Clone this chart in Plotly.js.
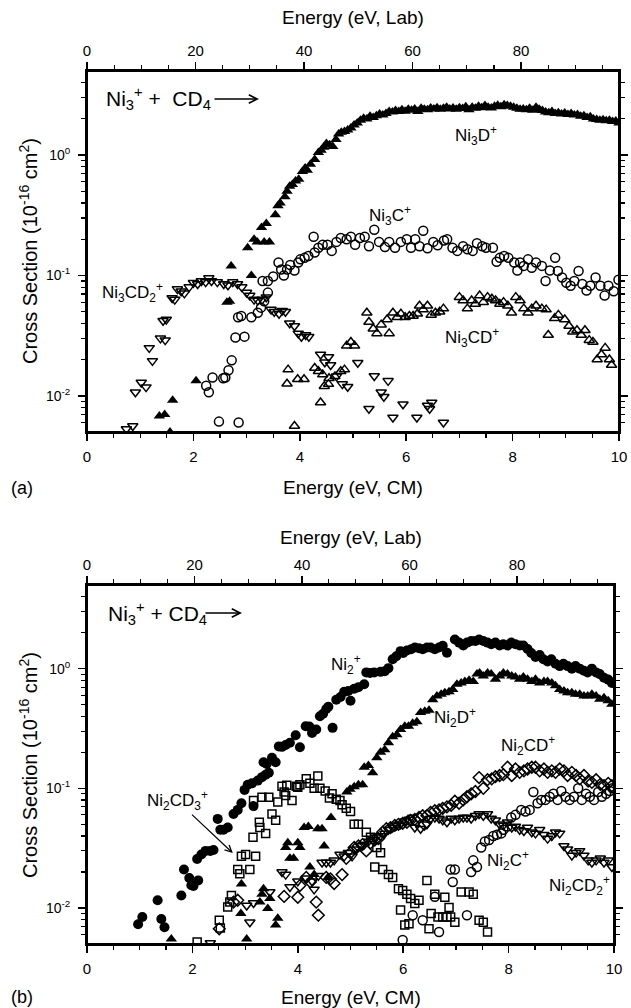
<!DOCTYPE html>
<html>
<head>
<meta charset="utf-8">
<script src="https://cdn.plot.ly/plotly-3.0.1.min.js"></script>
<style>html,body{margin:0;padding:0;background:#fff}#chart{width:631px;height:1008px}</style>
</head>
<body>
<div id="chart"></div>
<script>
// ---------- Panel (a) data : Energy (eV, CM) vs cross section (1e-16 cm^2) ----------
const aNi3D_E = [1.36,1.46,1.56,1.61,2.05,2.63,2.68,2.71,3.02,3.09,3.14,3.20,3.28,3.33,3.37,3.43,3.54,3.59,3.63,3.72,3.76,3.81,3.86,3.92,3.98,4.05,4.10,4.14,4.20,4.28,4.35,4.40,4.45,4.50,4.56,4.62,4.68,4.73,4.78,4.84,4.90,4.96,5.02,5.08,5.14,5.20,5.26,5.32,5.38,5.44,5.50,5.56,5.62,5.68,5.74,5.80,5.86,5.92,5.98,6.04,6.10,6.16,6.22,6.28,6.34,6.40,6.46,6.52,6.58,6.64,6.70,6.76,6.82,6.88,6.94,7.00,7.06,7.12,7.18,7.24,7.30,7.36,7.42,7.48,7.54,7.60,7.66,7.72,7.78,7.84,7.90,7.96,8.02,8.08,8.14,8.20,8.26,8.32,8.38,8.44,8.50,8.56,8.62,8.68,8.74,8.80,8.86,8.92,8.98,9.04,9.10,9.16,9.22,9.28,9.34,9.40,9.46,9.52,9.58,9.64,9.70,9.76,9.82,9.88,9.94,10.0];
const aNi3D_S = [0.0068,0.0070,0.0050,0.0092,0.0133,0.060,0.061,0.12,0.17,0.10,0.20,0.19,0.25,0.19,0.27,0.19,0.32,0.38,0.40,0.45,0.50,0.55,0.57,0.61,0.63,0.73,0.78,0.75,0.84,0.92,1.05,1.10,1.16,1.25,1.22,1.18,1.35,1.50,1.55,1.57,1.62,1.68,1.78,1.85,1.95,2.02,2.00,2.10,2.05,2.12,2.20,2.15,2.22,2.30,2.28,2.35,2.30,2.38,2.32,2.40,2.36,2.42,2.30,2.45,2.40,2.38,2.46,2.42,2.48,2.40,2.45,2.50,2.42,2.46,2.40,2.48,2.44,2.52,2.38,2.50,2.45,2.55,2.48,2.58,2.50,2.46,2.55,2.60,2.52,2.62,2.58,2.55,2.50,2.45,2.40,2.42,2.38,2.45,2.36,2.50,2.40,2.35,2.28,2.25,2.30,2.22,2.25,2.20,2.24,2.18,2.22,2.15,2.18,2.10,2.12,2.05,2.08,2.00,1.98,1.95,1.97,1.93,1.95,1.90,1.92,1.85];

const aNi3C_E = [2.48,2.85,2.24,2.29,2.36,2.56,2.60,2.66,2.72,2.79,2.96,2.84,2.90,3.09,3.21,3.27,3.33,3.40,3.30,3.40,3.50,3.60,3.65,3.70,3.76,3.82,3.90,3.97,4.01,4.09,4.16,4.26,4.28,4.35,4.43,4.52,4.60,4.69,4.77,4.88,4.96,5.04,5.13,5.22,5.30,5.40,5.49,5.60,5.68,5.79,5.90,6.01,6.09,6.17,6.25,6.32,6.40,6.51,6.59,6.71,6.77,6.87,6.96,7.07,7.15,7.25,7.33,7.43,7.50,7.63,7.70,7.76,7.84,7.92,8.03,8.09,8.14,8.21,8.29,8.36,8.44,8.55,8.62,8.70,8.80,8.85,8.93,9.01,9.09,9.16,9.24,9.31,9.39,9.46,9.56,9.65,9.73,9.80,9.90,9.99];
const aNi3C_S = [0.0061,0.0060,0.0121,0.0107,0.0142,0.0140,0.0142,0.0163,0.0197,0.0305,0.031,0.045,0.046,0.045,0.049,0.054,0.061,0.072,0.090,0.090,0.098,0.128,0.112,0.100,0.112,0.122,0.110,0.128,0.136,0.140,0.145,0.210,0.155,0.170,0.180,0.180,0.160,0.190,0.205,0.200,0.210,0.180,0.205,0.210,0.175,0.240,0.190,0.172,0.190,0.170,0.190,0.200,0.170,0.200,0.175,0.235,0.168,0.190,0.178,0.195,0.200,0.170,0.160,0.175,0.165,0.160,0.185,0.175,0.170,0.170,0.130,0.140,0.145,0.140,0.128,0.110,0.128,0.120,0.136,0.116,0.128,0.120,0.090,0.110,0.140,0.109,0.096,0.087,0.082,0.090,0.109,0.085,0.075,0.082,0.096,0.082,0.068,0.082,0.074,0.092];

const aNi3CD2_E = [0.74,0.86,0.91,1.02,1.11,1.17,1.23,1.38,1.47,1.43,1.49,1.60,1.65,1.70,1.77,1.83,1.92,2.00,2.08,2.15,2.23,2.29,2.34,2.45,2.57,2.65,2.74,2.83,2.91,3.00,3.06,3.14,3.21,3.29,3.37,3.46,3.52,3.61,3.67,3.73,3.81,3.90,3.97,4.03,4.11,4.17,4.39,4.47,4.54,4.58,4.69,4.80,4.90,5.09,5.30,5.40,5.53,5.58,5.66,5.75,5.94,6.20,6.40,6.48,6.44,6.70];
const aNi3CD2_S = [0.0053,0.0056,0.0107,0.0129,0.0118,0.025,0.0195,0.030,0.029,0.042,0.043,0.065,0.063,0.077,0.074,0.071,0.080,0.087,0.085,0.090,0.088,0.095,0.090,0.088,0.085,0.083,0.088,0.085,0.080,0.072,0.068,0.063,0.062,0.063,0.066,0.052,0.050,0.048,0.051,0.050,0.040,0.038,0.033,0.031,0.032,0.031,0.022,0.019,0.021,0.018,0.0145,0.0125,0.0119,0.0188,0.0078,0.0146,0.0107,0.0098,0.0133,0.0066,0.0085,0.0066,0.0083,0.0088,0.0078,0.0060];

const aNi3CD_E = [3.90,3.78,3.76,3.96,4.08,4.28,4.35,4.43,4.39,4.46,4.54,4.55,4.66,4.77,4.84,4.88,4.96,5.03,5.26,5.30,5.38,5.45,5.53,5.64,5.68,5.75,5.83,5.90,5.98,6.06,6.13,6.21,6.25,6.32,6.40,6.47,6.55,6.63,6.70,7.00,7.07,7.15,7.23,7.30,7.38,7.45,7.53,7.61,7.68,7.76,7.83,7.91,7.98,8.06,8.14,8.21,8.29,8.36,8.44,8.55,8.63,8.67,8.79,8.86,8.98,9.06,9.13,9.21,9.29,9.36,9.44,9.51,9.59,9.67,9.74,9.82,9.86];
const aNi3CD_S = [0.0056,0.0165,0.0126,0.0137,0.0137,0.0170,0.0160,0.0150,0.0088,0.0120,0.0125,0.0140,0.0145,0.0160,0.0165,0.026,0.028,0.026,0.049,0.041,0.036,0.033,0.039,0.043,0.033,0.049,0.045,0.048,0.045,0.046,0.046,0.048,0.056,0.052,0.056,0.047,0.049,0.050,0.053,0.066,0.062,0.053,0.062,0.058,0.068,0.060,0.066,0.064,0.062,0.058,0.060,0.056,0.049,0.066,0.062,0.053,0.049,0.053,0.056,0.053,0.052,0.032,0.044,0.047,0.043,0.038,0.034,0.035,0.032,0.035,0.029,0.028,0.020,0.022,0.025,0.020,0.018];

// ---------- Panel (b) data ----------
const bNi2_E = [0.97,1.05,1.34,1.41,1.47,1.79,1.84,1.94,1.98,2.02,2.11,2.09,2.17,2.25,2.34,2.40,2.48,2.53,2.59,2.67,2.78,2.86,2.93,3.16,2.99,3.05,3.13,3.24,3.32,3.39,3.45,3.35,3.41,3.51,3.58,3.64,3.70,3.77,3.85,3.96,4.04,4.15,4.22,4.27,4.35,4.42,4.48,4.54,4.58,4.66,4.73,4.81,4.88,4.96,5.00,5.07,5.15,5.26,5.30,5.37,5.45,5.57,5.65,5.72,5.80,5.87,5.95,6.00,6.07,6.15,6.22,6.30,6.37,6.45,6.52,6.60,6.68,6.75,6.83,6.98,7.06,7.14,7.21,7.29,7.37,7.44,7.52,7.60,7.67,7.75,7.83,7.90,7.98,8.05,8.13,8.21,8.28,8.36,8.43,8.51,8.59,8.66,8.74,8.81,8.89,8.97,9.04,9.12,9.20,9.27,9.35,9.43,9.50,9.58,9.66,9.73,9.81,9.89,9.96];
const bNi2_S = [0.0073,0.0084,0.0116,0.0081,0.0069,0.0127,0.021,0.0178,0.0155,0.0153,0.017,0.0257,0.028,0.030,0.030,0.0305,0.0555,0.045,0.045,0.047,0.061,0.066,0.075,0.071,0.097,0.107,0.110,0.116,0.124,0.130,0.135,0.165,0.160,0.180,0.165,0.224,0.222,0.230,0.240,0.278,0.220,0.330,0.328,0.290,0.310,0.400,0.420,0.460,0.480,0.320,0.550,0.580,0.640,0.650,0.540,0.680,0.700,0.740,0.930,0.920,0.930,0.940,0.950,1.010,1.200,1.270,1.400,1.350,1.420,1.450,1.500,1.480,1.450,1.500,1.500,1.450,1.500,1.550,1.360,1.750,1.650,1.560,1.650,1.700,1.700,1.750,1.700,1.650,1.600,1.650,1.560,1.600,1.560,1.650,1.600,1.560,1.560,1.460,1.350,1.250,1.300,1.200,1.150,1.200,1.100,1.050,1.100,1.050,1.000,1.050,1.000,0.960,0.930,1.000,0.930,0.900,0.840,0.810,0.760];

const bNi2D_E = [1.60,3.03,2.92,2.93,3.28,3.35,3.32,3.43,3.47,3.58,3.62,3.77,3.81,4.00,4.04,3.85,3.92,4.12,4.20,4.38,4.46,4.23,4.31,4.50,4.63,4.57,4.93,4.99,5.07,5.15,5.23,5.26,5.34,5.42,5.50,5.57,5.65,5.72,5.80,5.88,5.95,6.03,6.10,6.18,6.26,6.33,6.41,6.49,6.56,6.64,6.72,6.79,6.87,6.94,7.02,7.10,7.17,7.25,7.33,7.40,7.45,7.52,7.60,7.67,7.75,7.83,7.90,7.98,8.06,8.13,8.21,8.28,8.36,8.44,8.51,8.59,8.67,8.74,8.82,8.89,8.97,9.05,9.12,9.20,9.27,9.35,9.43,9.50,9.58,9.66,9.73,9.81,9.89,9.96];
const bNi2D_S = [0.0055,0.0055,0.0090,0.0159,0.0112,0.0145,0.0130,0.0099,0.0120,0.0072,0.0082,0.032,0.035,0.035,0.032,0.026,0.026,0.047,0.048,0.046,0.046,0.022,0.019,0.033,0.057,0.018,0.093,0.098,0.103,0.107,0.107,0.150,0.155,0.135,0.180,0.200,0.210,0.240,0.270,0.280,0.310,0.330,0.330,0.350,0.360,0.430,0.440,0.450,0.550,0.590,0.610,0.630,0.640,0.670,0.740,0.760,0.780,0.800,0.780,0.900,0.920,0.870,0.920,0.900,0.815,0.870,0.920,0.900,0.870,0.850,0.815,0.850,0.815,0.780,0.815,0.760,0.780,0.780,0.760,0.720,0.670,0.650,0.630,0.630,0.610,0.610,0.590,0.590,0.610,0.590,0.555,0.570,0.540,0.505];

const bNi2CD3_E = [2.09,2.51,2.53,2.67,2.71,2.74,2.86,2.90,3.09,2.93,3.01,3.20,3.15,3.28,3.39,3.27,3.51,3.58,3.16,3.32,3.45,3.62,3.74,3.77,3.89,3.70,3.79,3.97,4.00,4.04,4.16,4.23,4.38,4.31,4.42,4.52,4.65,4.60,4.73,4.80,4.84,4.92,5.00,5.07,5.15,5.30,5.38,5.50,5.57,5.46,5.61,5.72,5.80,5.91,5.99,6.07,5.95,6.14,6.22,6.30,6.03,6.11,6.45,6.53,6.60,6.49,6.66,6.75,6.83,6.90,6.79,6.87,6.98,7.10,7.25,7.33,7.44,7.52,7.60];
const bNi2CD3_S = [0.0052,0.0079,0.0068,0.0102,0.0112,0.0127,0.021,0.0193,0.021,0.027,0.028,0.027,0.039,0.047,0.042,0.052,0.061,0.054,0.079,0.084,0.084,0.077,0.093,0.087,0.079,0.104,0.106,0.104,0.102,0.107,0.120,0.110,0.127,0.100,0.100,0.095,0.090,0.083,0.081,0.079,0.073,0.068,0.064,0.050,0.050,0.043,0.039,0.032,0.029,0.022,0.021,0.019,0.018,0.0145,0.0140,0.0130,0.0096,0.0120,0.0109,0.0116,0.0072,0.0074,0.0170,0.0090,0.0130,0.0067,0.0084,0.0084,0.0084,0.0084,0.0123,0.0101,0.0076,0.0136,0.0136,0.0130,0.0079,0.0076,0.0063];

const bNi2C_E = [5.99,6.18,6.37,6.60,6.68,6.90,6.98,6.94,7.21,7.33,7.29,7.40,7.48,7.55,7.63,7.71,7.78,7.86,7.90,7.98,8.05,8.13,8.24,8.32,8.40,8.47,8.55,8.62,8.70,8.78,8.85,8.93,9.00,9.08,9.16,9.24,9.32,9.39,9.47,9.54,9.62,9.70,9.77,9.85,9.92,9.97];
const bNi2C_S = [0.0054,0.0087,0.0079,0.0124,0.0063,0.021,0.021,0.0165,0.0087,0.025,0.020,0.022,0.032,0.036,0.037,0.040,0.041,0.042,0.045,0.048,0.057,0.060,0.066,0.064,0.066,0.093,0.075,0.080,0.080,0.085,0.090,0.080,0.095,0.085,0.080,0.085,0.100,0.080,0.090,0.085,0.080,0.093,0.085,0.090,0.095,0.100];

const bNi2CD_E = [2.51,2.78,2.86,3.74,4.00,4.04,4.16,4.24,4.35,4.39,4.54,4.62,4.69,4.84,4.92,5.00,5.07,5.15,5.23,5.30,5.38,5.46,5.53,5.61,5.68,5.76,5.84,5.91,5.99,6.07,6.14,6.22,6.30,6.37,6.45,6.40,6.52,6.60,6.68,6.75,6.83,6.91,6.98,7.06,7.14,7.21,7.29,7.37,7.44,7.52,7.60,7.68,7.75,7.83,7.90,7.98,8.06,8.13,8.21,8.29,8.36,8.44,8.51,8.59,8.67,8.74,8.82,8.89,8.97,9.05,9.12,9.20,9.28,9.35,9.43,9.51,9.58,9.66,9.74,9.81,9.89,9.96];
const bNi2CD_S = [0.0067,0.0112,0.0116,0.0125,0.0123,0.0154,0.0180,0.0165,0.0112,0.0087,0.0180,0.0175,0.0160,0.0190,0.026,0.029,0.032,0.033,0.034,0.030,0.035,0.037,0.038,0.043,0.046,0.047,0.049,0.050,0.051,0.052,0.054,0.055,0.057,0.059,0.059,0.050,0.063,0.065,0.066,0.068,0.070,0.072,0.078,0.075,0.080,0.085,0.090,0.094,0.123,0.100,0.118,0.120,0.125,0.128,0.130,0.150,0.128,0.145,0.136,0.140,0.145,0.150,0.150,0.140,0.145,0.136,0.140,0.136,0.145,0.140,0.128,0.136,0.128,0.120,0.128,0.115,0.112,0.118,0.108,0.105,0.110,0.105];

const bNi2CD2_E = [2.34,3.09,3.03,3.16,3.47,3.70,3.77,3.85,4.00,4.16,4.27,4.31,4.39,4.46,4.54,4.62,4.69,4.80,4.88,4.96,5.03,5.11,5.19,5.26,5.34,5.42,5.49,5.57,5.65,5.72,5.80,5.87,5.95,6.03,6.11,6.18,6.22,6.33,6.45,6.52,6.60,6.68,6.75,6.83,6.91,6.98,7.06,7.14,7.21,7.29,7.37,7.44,7.52,7.60,7.67,7.75,7.83,7.90,7.98,8.06,8.13,8.21,8.29,8.36,8.44,8.51,8.59,8.67,8.74,8.82,8.89,8.97,9.05,9.12,9.20,9.28,9.35,9.43,9.51,9.58,9.66,9.74,9.81,9.89,9.96];
const bNi2CD2_S = [0.0051,0.0076,0.0105,0.0110,0.0136,0.020,0.019,0.0150,0.0167,0.0177,0.0167,0.0143,0.0186,0.024,0.024,0.024,0.025,0.028,0.027,0.029,0.027,0.031,0.033,0.034,0.036,0.037,0.039,0.040,0.042,0.045,0.047,0.049,0.050,0.053,0.055,0.057,0.047,0.046,0.050,0.056,0.057,0.056,0.054,0.052,0.056,0.054,0.056,0.057,0.057,0.056,0.059,0.061,0.059,0.061,0.056,0.054,0.050,0.049,0.052,0.047,0.048,0.045,0.044,0.047,0.043,0.042,0.045,0.041,0.038,0.040,0.043,0.042,0.033,0.031,0.0275,0.029,0.030,0.0275,0.025,0.024,0.025,0.026,0.024,0.025,0.022];

// ---------- axis / tick definitions ----------
const cmTicks = [0,2,4,6,8,10];
const labTicks = [0,20,40,60,80];
const labMax = 98.05;          // E_lab at E_CM = 10 (Ni3+ + CD4)
const yMajor = [0.01,0.1,1];
const yMajorText = ['10<sup>-2</sup>','10<sup>-1</sup>','10<sup>0</sup>'];
const yMinor = [0.006,0.007,0.008,0.009,0.02,0.03,0.04,0.05,0.06,0.07,0.08,0.09,0.2,0.3,0.4,0.5,0.6,0.7,0.8,0.9,2,3,4];
const yRange = [0.005, 5];

const W = 631, H = 1008;
const FONT = 'Liberation Sans, Arial, Helvetica, sans-serif';
const px = v => v / W, py = v => 1 - v / H;

function mk(x, y, symbol, size, xa, ya, lw) {
  return {x: x, y: y, mode: 'markers', type: 'scatter', xaxis: xa, yaxis: ya, showlegend: false, hoverinfo: 'skip',
          marker: {symbol: symbol, size: size, color: '#000', line: {color: '#000', width: lw === undefined ? 1.5 : lw}}};
}
// empty helper traces so that the Lab (top) and right-hand axes get drawn
function frameTrace(xa, ya) {
  return {x: [], y: [], type: 'scatter', mode: 'markers', xaxis: xa, yaxis: ya, showlegend: false, hoverinfo: 'skip'};
}

const traces = [
  mk(aNi3CD2_E, aNi3CD2_S, 'triangle-down-open', 9, 'x', 'y'),
  mk(aNi3CD_E, aNi3CD_S, 'triangle-up-open', 9, 'x', 'y'),
  mk(aNi3C_E, aNi3C_S, 'circle-open', 9, 'x', 'y'),
  mk(aNi3D_E, aNi3D_S, 'triangle-up', 10, 'x', 'y', 0),
  mk(bNi2CD3_E, bNi2CD3_S, 'square-open', 8, 'x3', 'y2'),
  mk(bNi2C_E, bNi2C_S, 'circle-open', 9, 'x3', 'y2'),
  mk(bNi2CD_E, bNi2CD_S, 'diamond-open', 9, 'x3', 'y2'),
  mk(bNi2CD2_E, bNi2CD2_S, 'triangle-down-open', 9, 'x3', 'y2'),
  mk(bNi2D_E, bNi2D_S, 'triangle-up', 10, 'x3', 'y2', 0),
  mk(bNi2_E, bNi2_S, 'circle', 10, 'x3', 'y2', 0),
  frameTrace('x2', 'y3'),
  frameTrace('x4', 'y4')
];

const tickFont = {family: FONT, size: 15, color: '#000'};
const common = {ticks: 'outside', ticklen: 7, tickwidth: 1.5, tickcolor: '#000', showline: true, linewidth: 2,
                linecolor: '#000', showgrid: false, zeroline: false};
function xAxisCM(domain, anchor) {
  return Object.assign({domain: domain, anchor: anchor, range: [0, 10], tickmode: 'array', tickvals: cmTicks,
          tickfont: tickFont, ticklabelstandoff: 3,
          minor: {dtick: 0.5, ticks: 'outside', ticklen: 4, tickwidth: 1.2, tickcolor: '#000', showgrid: false}}, common);
}
function xAxisLab(domain, over, anchor) {
  return Object.assign({domain: domain, overlaying: over, anchor: anchor, side: 'top', range: [0, labMax],
          tickmode: 'array', tickvals: labTicks, tickfont: tickFont, ticklabelstandoff: 0,
          minor: {dtick: 5, ticks: 'outside', ticklen: 4, tickwidth: 1.2, tickcolor: '#000', showgrid: false}}, common);
}
function yAxisLog(domain, anchor, extra) {
  return Object.assign({domain: domain, anchor: anchor, type: 'log', range: [Math.log10(yRange[0]), Math.log10(yRange[1])],
          tickmode: 'array', tickvals: yMajor, ticktext: yMajorText,
          tickfont: {family: FONT, size: 14, color: '#000'}, ticklabelstandoff: 5,
          minor: {tickmode: 'array', tickvals: yMinor, ticks: 'outside', ticklen: 4, tickwidth: 1.2, tickcolor: '#000', showgrid: false}},
          common, extra || {});
}

const labFont = {family: FONT, size: 17, color: '#000'};
function paperText(text, x, y, size, opts) {
  return Object.assign({xref: 'paper', yref: 'paper', x: px(x), y: py(y), text: text, showarrow: false,
          xanchor: 'center', yanchor: 'middle', font: {family: FONT, size: size, color: '#000'}}, opts || {});
}
function dataText(text, x, y, xa, ya) {
  return {xref: xa, yref: ya, x: x, y: y, text: text, showarrow: false, xanchor: 'center', yanchor: 'middle', font: labFont};
}
const yTitle = 'Cross Section (10<sup>-16</sup> cm<sup>2</sup>)';
const reactionA = 'Ni<sub>3</sub><sup>+</sup> +&nbsp; CD<sub>4</sub>';
const reactionB = 'Ni<sub>3</sub><sup>+</sup> + CD<sub>4</sub>';

const annotations = [
  paperText('Energy (eV, Lab)', 353, 17, 19),
  paperText('Energy (eV, CM)', 353, 487, 19),
  paperText(yTitle, 28, 251, 20, {textangle: -90}),
  paperText('(a)', 22, 488, 18),
  paperText(reactionA, 104, 99, 21, {xanchor: 'left'}),
  {xref: 'paper', yref: 'paper', x: px(259), y: py(99), ax: -46, ay: 0, text: '', showarrow: true,
   arrowhead: 5, arrowsize: 1.1, arrowwidth: 1.5, arrowcolor: '#000', standoff: 0},
  dataText('Ni<sub>3</sub>D<sup>+</sup>', 7.31, 0.16, 'x', 'y'),
  dataText('Ni<sub>3</sub>C<sup>+</sup>', 5.70, -0.506, 'x', 'y'),
  dataText('Ni<sub>3</sub>CD<sub>2</sub><sup>+</sup>', 0.86, -1.143, 'x', 'y'),
  dataText('Ni<sub>3</sub>CD<sup>+</sup>', 7.23, -1.516, 'x', 'y'),

  paperText('Energy (eV, Lab)', 351, 537, 19),
  paperText('Energy (eV, CM)', 351, 997, 19),
  paperText(yTitle, 28, 765, 20, {textangle: -90}),
  paperText('(b)', 22, 997, 18),
  paperText(reactionB, 106, 613, 21, {xanchor: 'left'}),
  {xref: 'paper', yref: 'paper', x: px(242), y: py(613), ax: -38, ay: 0, text: '', showarrow: true,
   arrowhead: 5, arrowsize: 1.1, arrowwidth: 1.5, arrowcolor: '#000', standoff: 0},
  dataText('Ni<sub>2</sub><sup>+</sup>', 4.92, 0.036, 'x3', 'y2'),
  dataText('Ni<sub>2</sub>D<sup>+</sup>', 6.98, -0.408, 'x3', 'y2'),
  dataText('Ni<sub>2</sub>CD<sup>+</sup>', 8.36, -0.644, 'x3', 'y2'),
  dataText('Ni<sub>2</sub>C<sup>+</sup>', 7.98, -1.603, 'x3', 'y2'),
  dataText('Ni<sub>2</sub>CD<sub>2</sub><sup>+</sup>', 9.35, -1.811, 'x3', 'y2'),
  {xref: 'x3', yref: 'y2', axref: 'x3', ayref: 'y2', x: 2.78, y: -1.547, ax: 1.71, ay: -1.103,
   text: 'Ni<sub>2</sub>CD<sub>3</sub><sup>+</sup>', showarrow: true, arrowhead: 5, arrowsize: 1.1, arrowwidth: 1.2,
   arrowcolor: '#000', standoff: 1, font: labFont}
];

// plot frames (box round each panel)
const shapes = [
  {type: 'rect', xref: 'x domain', yref: 'y domain', x0: 0, x1: 1, y0: 0, y1: 1, line: {color: '#000', width: 2}, layer: 'above'},
  {type: 'rect', xref: 'x3 domain', yref: 'y2 domain', x0: 0, x1: 1, y0: 0, y1: 1, line: {color: '#000', width: 2}, layer: 'above'}
];

const domA_x = [px(87), px(619)], domA_y = [py(432), py(71)];
const domB_x = [px(87), px(614)], domB_y = [py(944), py(585)];

const layout = {
  width: W, height: H, margin: {l: 0, r: 0, t: 0, b: 0},
  paper_bgcolor: '#fff', plot_bgcolor: 'rgba(0,0,0,0)', showlegend: false,
  font: {family: FONT, color: '#000'},
  xaxis: xAxisCM(domA_x, 'y'),
  yaxis: yAxisLog(domA_y, 'x'),
  xaxis2: xAxisLab(domA_x, 'x', 'y3'),
  yaxis3: yAxisLog(domA_y, 'x2', {overlaying: 'y', side: 'right', showticklabels: false}),
  xaxis3: xAxisCM(domB_x, 'y2'),
  yaxis2: yAxisLog(domB_y, 'x3'),
  xaxis4: xAxisLab(domB_x, 'x3', 'y4'),
  yaxis4: yAxisLog(domB_y, 'x4', {overlaying: 'y2', side: 'right', showticklabels: false}),
  annotations: annotations,
  shapes: shapes
};

Plotly.newPlot('chart', traces, layout, {staticPlot: true, displayModeBar: false});
</script>
</body>
</html>
